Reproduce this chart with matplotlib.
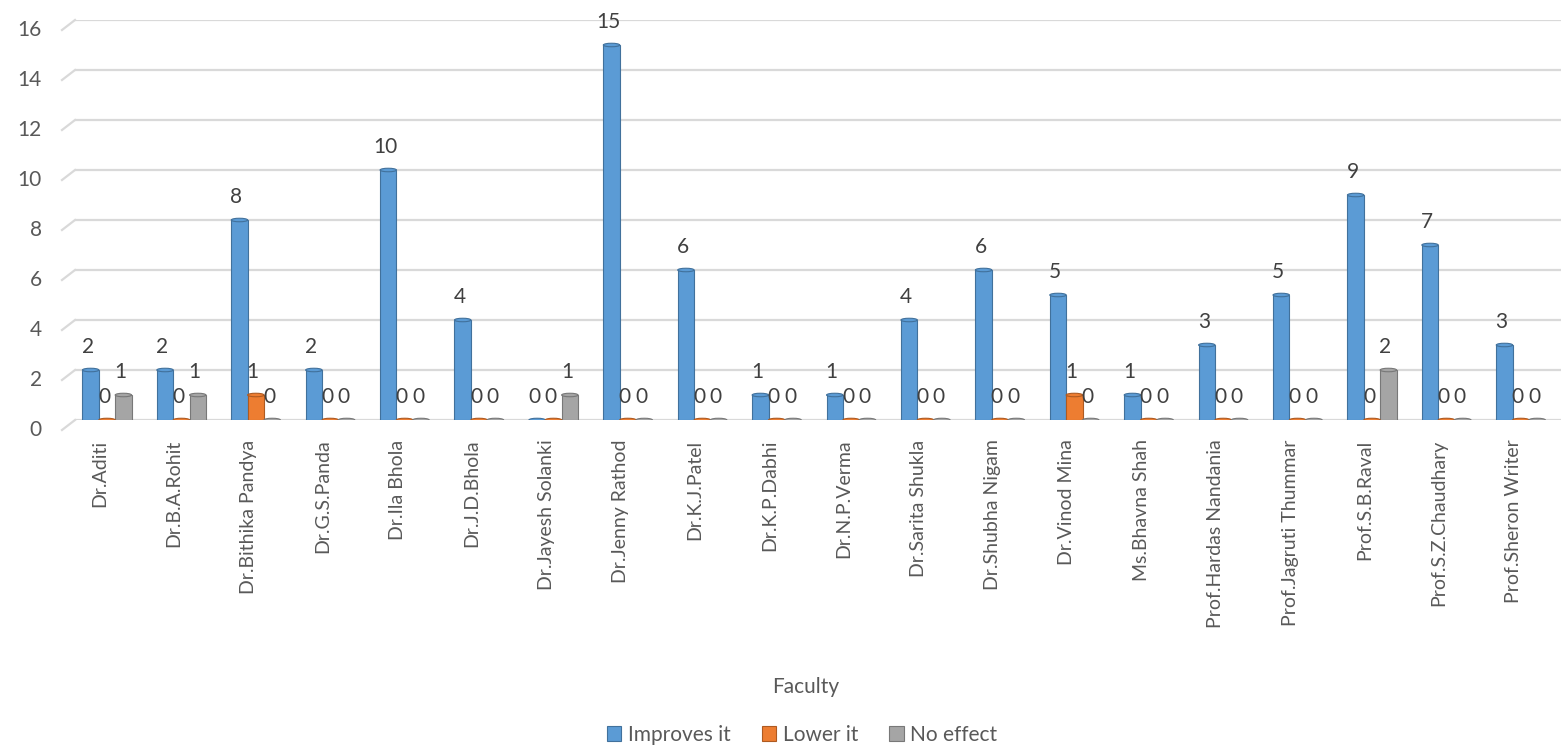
import numpy as np
import matplotlib.pyplot as plt
from matplotlib.patches import Ellipse
from matplotlib.transforms import ScaledTranslation, blended_transform_factory

faculty = ['Dr.Aditi', 'Dr.B.A.Rohit', 'Dr.Bithika Pandya', 'Dr.G.S.Panda', 'Dr.Ila Bhola',
           'Dr.J.D.Bhola', 'Dr.Jayesh Solanki', 'Dr.Jenny Rathod', 'Dr.K.J.Patel', 'Dr.K.P.Dabhi',
           'Dr.N.P.Verma', 'Dr.Sarita Shukla', 'Dr.Shubha Nigam', 'Dr.Vinod Mina', 'Ms.Bhavna Shah',
           'Prof.Hardas Nandania', 'Prof.Jagruti Thummar', 'Prof.S.B.Raval', 'Prof.S.Z.Chaudhary',
           'Prof.Sheron Writer']
improves = [2, 2, 8, 2, 10, 4, 0, 15, 6, 1, 1, 4, 6, 5, 1, 3, 5, 9, 7, 3]
lower = [0, 0, 1, 0, 0, 0, 0, 0, 0, 0, 0, 0, 0, 1, 0, 0, 0, 0, 0, 0]
no_effect = [1, 1, 0, 0, 0, 0, 1, 0, 0, 0, 0, 0, 0, 0, 0, 0, 0, 2, 0, 0]

series = [('Improves it', improves, '#5B9BD5', '#41719C'),
          ('Lower it', lower, '#ED7D31', '#AE5A21'),
          ('No effect', no_effect, '#A5A5A5', '#787878')]

txt = '#595959'
plt.rcParams['font.family'] = ['Lato', 'DejaVu Sans']

W, H = 1561, 747
fig = plt.figure(figsize=(W / 100, H / 100), dpi=100)
ax = fig.add_axes([75 / W, (H - 420) / H, (W - 75) / W, 400 / H])

x = np.arange(len(faculty))
bw = 0.22

for k, (name, vals, col, edge) in enumerate(series):
    xs = x + (k - 1) * bw
    ax.bar(xs, vals, width=bw, color=col, edgecolor=edge, linewidth=0.8, label=name, zorder=3)
    for xi, v in zip(xs, vals):
        # elliptical cap so the bars look like the excel cylinders
        ax.add_patch(Ellipse((xi, v), bw, 0.14, facecolor=col, edgecolor=edge,
                             linewidth=0.8, zorder=4))
        ax.annotate(str(v), (xi, v), xytext=(-3, 23), textcoords='offset pixels',
                    ha='center', va='center', fontsize=15, color='#404040', zorder=5)

ax.set_xlim(-0.43, 19.54)
ax.set_ylim(0, 16)
ax.set_yticks(range(0, 17, 2))
ax.yaxis.grid(True, color='#D9D9D9', linewidth=1.6, zorder=0)
ax.set_axisbelow(True)
for s in ax.spines.values():
    s.set_visible(False)
ax.tick_params(length=0)
ax.tick_params(axis='y', labelsize=15, labelcolor=txt, pad=24)
ax.set_xticks(x - 0.1)
ax.set_xticklabels(faculty, rotation=90, fontsize=14, color=txt)
ax.tick_params(axis='x', pad=14)

# short diagonal floor lines at the left end of each gridline
tr = blended_transform_factory(ax.transAxes, ax.transData)
for yv in range(0, 17, 2):
    ax.plot([-13 / (W - 75), 0], [yv - 0.4, yv], transform=tr, color='#D9D9D9',
            linewidth=1.6, clip_on=False)
off = ScaledTranslation(0, -8 / 100, fig.dpi_scale_trans)
for lab in ax.get_yticklabels():
    lab.set_transform(lab.get_transform() + off)

fig.text(806 / W, 1 - 687 / H, 'Faculty', ha='center', va='center', fontsize=15, color=txt)
fig.legend(loc='center', bbox_to_anchor=(802 / W, 1 - 735 / H), ncol=3, frameon=False,
           fontsize=15, labelcolor=txt, handlelength=0.7, handleheight=0.7,
           handletextpad=0.3, columnspacing=1.5)

fig.savefig('out.png', dpi=100)
